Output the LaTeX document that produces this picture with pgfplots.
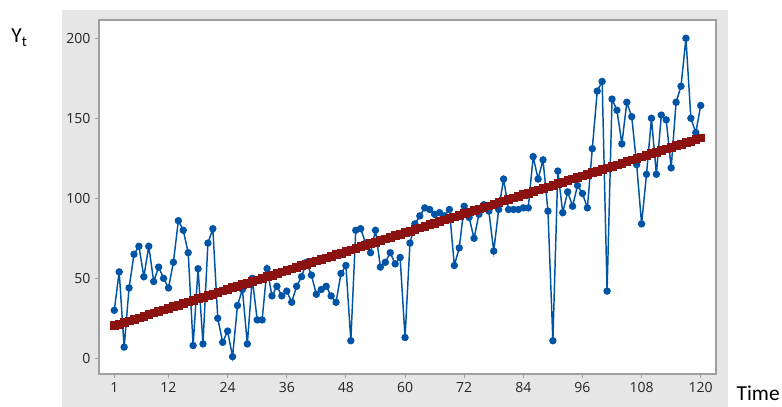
\documentclass[border=0pt]{standalone}
\usepackage{fontspec}
\setmainfont{Carlito}
\newfontfamily\tickfont{Open Sans}
\usepackage{pgfplots}
\pgfplotsset{compat=1.18}
\definecolor{panelgray}{RGB}{230,230,230}
\definecolor{framegray}{RGB}{160,160,160}
\definecolor{ptblue}{RGB}{0,84,166}
\definecolor{trendred}{RGB}{140,18,18}

% observed series Y_t
\pgfplotstableread{
t y
1 30
2 54
3 7
4 44
5 65
6 70
7 51
8 70
9 48
10 57
11 50
12 44
13 60
14 86
15 80
16 66
17 8
18 56
19 9
20 72
21 81
22 25
23 10
24 17
25 1
26 33
27 43
28 9
29 50
30 24
31 24
32 56
33 39
34 45
35 39
36 42
37 35
38 45
39 51
40 60
41 52
42 40
43 43
44 45
45 39
46 35
47 53
48 58
49 11
50 80
51 81
52 72
53 66
54 80
55 57
56 60
57 66
58 59
59 63
60 13
61 72
62 84
63 89
64 94
65 93
66 90
67 91
68 89
69 93
70 58
71 69
72 95
73 88
74 75
75 90
76 96
77 92
78 67
79 93
80 112
81 93
82 93
83 93
84 94
85 94
86 126
87 112
88 124
89 92
90 11
91 117
92 91
93 104
94 95
95 108
96 103
97 94
98 131
99 167
100 173
101 42
102 162
103 155
104 134
105 160
106 151
107 121
108 84
109 115
110 150
111 115
112 152
113 149
114 119
115 160
116 170
117 200
118 150
119 141
120 158
}\obs

% fitted trend
\pgfplotstableread{
t y
1 20.5
2 21.5
3 22.5
4 23.5
5 24.4
6 25.4
7 26.4
8 27.4
9 28.4
10 29.4
11 30.4
12 31.3
13 32.3
14 33.3
15 34.3
16 35.3
17 36.3
18 37.3
19 38.2
20 39.2
21 40.2
22 41.2
23 42.2
24 43.2
25 44.2
26 45.1
27 46.1
28 47.1
29 48.1
30 49.1
31 50.1
32 51.1
33 52.0
34 53.0
35 54.0
36 55.0
37 56.0
38 57.0
39 58.0
40 58.9
41 59.9
42 60.9
43 61.9
44 62.9
45 63.9
46 64.9
47 65.8
48 66.8
49 67.8
50 68.8
51 69.8
52 70.8
53 71.8
54 72.7
55 73.7
56 74.7
57 75.7
58 76.7
59 77.7
60 78.7
61 79.6
62 80.6
63 81.6
64 82.6
65 83.6
66 84.6
67 85.6
68 86.5
69 87.5
70 88.5
71 89.5
72 90.5
73 91.5
74 92.5
75 93.4
76 94.4
77 95.4
78 96.4
79 97.4
80 98.4
81 99.4
82 100.3
83 101.3
84 102.3
85 103.3
86 104.3
87 105.3
88 106.3
89 107.2
90 108.2
91 109.2
92 110.2
93 111.2
94 112.2
95 113.2
96 114.1
97 115.1
98 116.1
99 117.1
100 118.1
101 119.1
102 120.1
103 121.0
104 122.0
105 123.0
106 124.0
107 125.0
108 126.0
109 127.0
110 127.9
111 128.9
112 129.9
113 130.9
114 131.9
115 132.9
116 133.9
117 134.8
118 135.8
119 136.8
120 137.8
}\trend

\begin{document}
\begin{tikzpicture}
\useasboundingbox (0,0) rectangle (586.5pt,305.25pt);
\fill[panelgray] (46.5pt,0) rectangle (546pt,297.75pt);
\begin{axis}[
at={(74.25pt,24.75pt)}, anchor=south west,
scale only axis,
width=462.75pt, height=265.5pt,
xmin=-2.1, xmax=123.1,
ymin=-9.8, ymax=211.4,
axis background/.style={fill=white},
axis line style={framegray, line width=1.1pt},
xtick={1,12,24,36,48,60,72,84,96,108,120},
ytick={0,50,100,150,200},
tick pos=left,
tick align=outside,
major tick length=3pt,
tick style={framegray, line width=0.8pt},
ticklabel style={font=\tickfont\fontsize{10.5}{12}\selectfont, text=black!85},
/pgf/number format/assume math mode=true,
]
\addplot[ptblue, line width=1.1pt, mark=*, mark size=2.2pt] table[x=t, y=y] {\obs};
\addplot[trendred, only marks, mark=square*, mark size=2.9pt] table[x=t, y=y] {\trend};
\end{axis}
\node[anchor=west, font=\fontsize{16}{18}\selectfont] at (549pt,10.5pt) {Time};
\node[anchor=west, font=\fontsize{16}{18}\selectfont] at (5pt,277pt) {Y\textsubscript{t}};
\end{tikzpicture}
\end{document}
